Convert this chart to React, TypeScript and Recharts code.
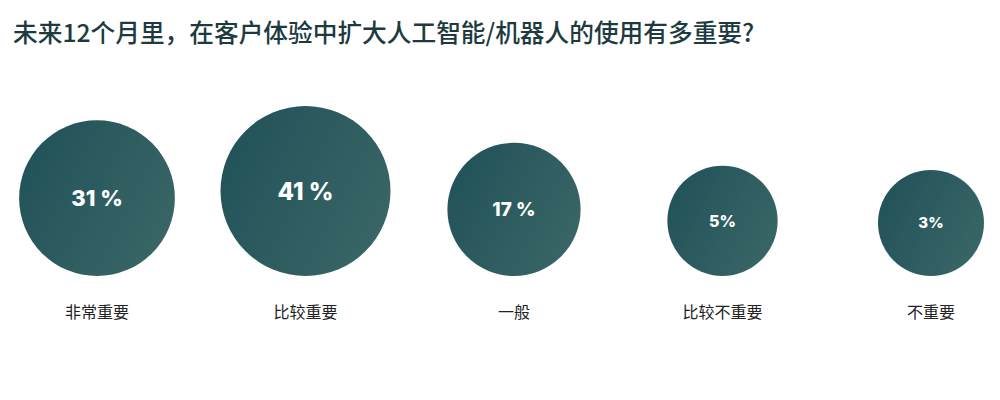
import React from 'react';
import { ScatterChart, Scatter, XAxis, YAxis, ZAxis } from 'recharts';

const categories = ['非常重要', '比较重要', '一般', '比较不重要', '不重要'];
const shares = [31, 41, 17, 5, 3];
const shareLabels = ['31 %', '41 %', '17 %', '5%', '3%'];
const title = '未来12个月里，在客户体验中扩大人工智能/机器人的使用有多重要?';

const data = categories.map((name, i) => ({
  idx: i,
  base: 0,
  share: shares[i],
  label: shareLabels[i],
  name,
}));

const Bubble = (props: any) => {
  const { cx, cy, width, payload } = props;
  if (cx == null || cy == null) return null;
  const r = width / 2;
  const c = cy - r;
  const fs = Math.round(r * 0.27 + 1);
  return (
    <g>
      <circle cx={cx} cy={c} r={r} fill="url(#bubbleGrad)" />
      <text
        x={cx}
        y={c}
        textAnchor="middle"
        dominantBaseline="central"
        fill="#ffffff"
        fontFamily="Inter, 'Noto Sans', sans-serif"
        fontWeight={800}
        fontSize={fs}
      >
        {payload.label}
      </text>
    </g>
  );
};

export default function App() {
  return (
    <div style={{ position: 'absolute', left: 0, top: 0, width: 1000, height: 400, background: '#ffffff' }}>
      <div
        style={{
          position: 'absolute',
          left: 13,
          top: 14,
          fontFamily: "'Noto Sans CJK SC', sans-serif",
          fontSize: 24.7,
          fontWeight: 500,
          color: '#1d3b3f',
          lineHeight: '34px',
          whiteSpace: 'nowrap',
        }}
      >
        {title}
      </div>
      <ScatterChart width={1000} height={400} margin={{ top: 60, right: 69, bottom: 94, left: 97 }}>
        <defs>
          <linearGradient id="bubbleGrad" x1="0" y1="0.3" x2="1" y2="0.8">
            <stop offset="0%" stopColor="#22535a" />
            <stop offset="100%" stopColor="#3a6666" />
          </linearGradient>
        </defs>
        <XAxis
          type="number"
          dataKey="idx"
          domain={[0, 4]}
          ticks={[0, 1, 2, 3, 4]}
          tickFormatter={(v: number) => categories[v]}
          axisLine={false}
          tickLine={false}
          tickSize={0}
          tickMargin={31}
          interval={0}
          tick={{ fontSize: 16, fill: '#222222', fontFamily: "'Noto Sans CJK SC', sans-serif" }}
        />
        <YAxis type="number" dataKey="base" domain={[0, 1]} hide />
        <ZAxis type="number" dataKey="share" domain={[0, 41]} range={[7730, 22698]} />
        <Scatter data={data} shape={<Bubble />} isAnimationActive={false} />
      </ScatterChart>
    </div>
  );
}
